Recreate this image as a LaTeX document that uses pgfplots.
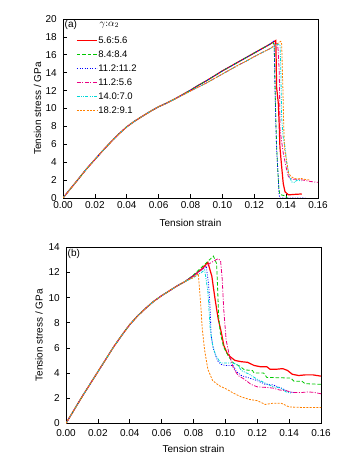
\documentclass[border=0pt]{standalone}
\usepackage{fontspec}
\setmainfont{Liberation Sans}
\usepackage{pgfplots}
\pgfplotsset{compat=1.18}
\definecolor{cred}{RGB}{255,0,0}
\definecolor{cgreen}{RGB}{0,200,0}
\definecolor{cblue}{RGB}{0,0,255}
\definecolor{cmag}{RGB}{235,0,130}
\definecolor{ccyan}{RGB}{0,215,215}
\definecolor{corange}{RGB}{255,128,0}
\tikzset{
  sred/.style={draw=cred, color=cred, line width=1.2pt, solid},
  sgreen/.style={draw=cgreen, color=cgreen, line width=0.8pt, dash pattern=on 3.5pt off 2pt},
  sblue/.style={draw=cblue, color=cblue, line width=0.8pt, dash pattern=on 1.2pt off 1.5pt on 0.8pt off 1.5pt},
  smag/.style={draw=cmag, color=cmag, line width=0.8pt, dash pattern=on 4pt off 1.5pt on 1pt off 1.5pt},
  scyan/.style={draw=ccyan, color=ccyan, line width=0.8pt, dash pattern=on 3pt off 1.2pt on 1pt off 1.2pt on 1pt off 1.2pt},
  sorange/.style={draw=corange, color=corange, line width=0.8pt, dash pattern=on 2pt off 1.3pt},
}
\pgfplotsset{
  myax/.style={
    scale only axis, width=255pt,
    xmin=0, xmax=0.16, ymin=0,
    xtick={0,0.02,0.04,0.06,0.08,0.10,0.12,0.14,0.16},
    scaled x ticks=false,
    xticklabel style={/pgf/number format/fixed,/pgf/number format/fixed zerofill,/pgf/number format/precision=2},
    /pgf/number format/assume math mode=true,
    tick align=inside, xtick pos=bottom, ytick pos=left,
    major tick length=4pt,
    axis line style={line width=0.8pt},
    tick style={line width=0.6pt, black},
    yticklabel style={xshift=-2.7pt},
    xlabel={Tension strain}, ylabel={Tension stress / GPa},
    ylabel style={anchor=center, rotate=0},
    tick label style={font=\fontsize{10}{12}\selectfont},
    label style={font=\fontsize{10}{12}\selectfont},
  },
}
\begin{document}
\fontsize{10}{12}\selectfont
\begin{tikzpicture}
\useasboundingbox (0,0) rectangle (361pt,462pt);
% ---------------- (a) ----------------
\begin{axis}[myax, at={(63pt,264pt)}, anchor=south west, height=179pt,
  ymax=20, ytick={0,2,4,6,8,10,12,14,16,18,20},
  xticklabel style={yshift=0pt},
  xlabel style={at={(axis description cs:0.5,-0.1397)}, anchor=center},
  ylabel style={at={(axis description cs:-0.1,0.5)}},
  legend style={draw=none, fill=none, at={(axis description cs:0.051,0.9095)}, anchor=north west,
    inner xsep=0pt, inner ysep=0pt, row sep=3pt, font=\fontsize{9.5}{11}\selectfont,
    nodes={inner sep=1pt, text height=7pt, text depth=2pt}},
  legend cell align=left,
  legend image code/.code={\draw[#1] (0pt,0pt) -- (20pt,0pt);},
]
\addplot[sred] coordinates {(0,0) (0.005,1.1) (0.01,2.2) (0.015,3.3) (0.02,4.3) (0.025,5.3) (0.03,6.25) (0.035,7.15) (0.04,7.95) (0.045,8.6) (0.05,9.15) (0.055,9.7) (0.06,10.2) (0.065,10.6) (0.07,11.05) (0.075,11.55) (0.08,12.05) (0.085,12.6) (0.09,13.1) (0.095,13.65) (0.10,14.2) (0.105,14.7) (0.11,15.2) (0.115,15.7) (0.12,16.2) (0.125,16.7) (0.13,17.2) (0.1335,17.6) (0.1338,15) (0.134,12.4) (0.1351,10.6) (0.1357,8.0) (0.1361,5.7) (0.1372,3.5) (0.1382,1.6) (0.1393,0.7) (0.1414,0.35) (0.145,0.4) (0.1498,0.45)};
\addlegendentry{5.6:5.6}
\addplot[sgreen] coordinates {(0,0) (0.005,1.1) (0.01,2.2) (0.015,3.3) (0.02,4.3) (0.025,5.3) (0.03,6.25) (0.035,7.15) (0.04,7.95) (0.045,8.6) (0.05,9.15) (0.055,9.7) (0.06,10.2) (0.065,10.6) (0.07,11.05) (0.075,11.55) (0.08,12.05) (0.085,12.6) (0.09,13.1) (0.095,13.65) (0.10,14.2) (0.105,14.7) (0.11,15.2) (0.115,15.7) (0.12,16.2) (0.125,16.7) (0.13,17.2) (0.1318,17.35) (0.1325,17.1) (0.133,13) (0.1335,9) (0.134,6) (0.1348,3) (0.1355,1) (0.136,0.4) (0.138,0.3) (0.14,0.25) (0.1405,0)};
\addlegendentry{8.4:8.4}
\addplot[sblue] coordinates {(0,0) (0.005,1.1) (0.01,2.2) (0.015,3.3) (0.02,4.3) (0.025,5.3) (0.03,6.25) (0.035,7.15) (0.04,7.95) (0.045,8.6) (0.05,9.15) (0.055,9.7) (0.06,10.2) (0.065,10.6) (0.07,11.05) (0.075,11.55) (0.08,12.05) (0.085,12.6) (0.09,13.1) (0.095,13.65) (0.10,14.2) (0.105,14.7) (0.11,15.2) (0.115,15.7) (0.12,16.2) (0.125,16.7) (0.13,17.2) (0.132,17.5) (0.1325,17.3) (0.133,12.5) (0.1335,8.5) (0.134,5.5) (0.135,2.5) (0.1355,0.5) (0.136,0) (0.152,0)};
\addlegendentry{11.2:11.2}
\addplot[smag] coordinates {(0,0) (0.005,1.1) (0.01,2.2) (0.015,3.3) (0.02,4.3) (0.025,5.3) (0.03,6.25) (0.035,7.15) (0.04,7.95) (0.045,8.6) (0.05,9.15) (0.055,9.7) (0.06,10.2) (0.065,10.6) (0.07,11.05) (0.075,11.5) (0.08,11.95) (0.085,12.4) (0.09,12.85) (0.095,13.35) (0.10,13.85) (0.105,14.35) (0.11,14.85) (0.115,15.3) (0.12,15.8) (0.125,16.25) (0.13,16.7) (0.1345,17.3) (0.135,16.5) (0.1357,14) (0.1362,7.6) (0.1382,5.0) (0.1404,3.1) (0.1414,2.4) (0.1435,2.1) (0.146,2.1) (0.1508,2.0) (0.155,1.85) (0.16,1.75)};
\addlegendentry{11.2:5.6}
\addplot[scyan] coordinates {(0,0) (0.005,1.1) (0.01,2.2) (0.015,3.3) (0.02,4.3) (0.025,5.3) (0.03,6.25) (0.035,7.15) (0.04,7.95) (0.045,8.6) (0.05,9.15) (0.055,9.7) (0.06,10.2) (0.065,10.6) (0.07,11.05) (0.075,11.5) (0.08,11.95) (0.085,12.4) (0.09,12.85) (0.095,13.35) (0.10,13.85) (0.105,14.35) (0.11,14.85) (0.115,15.3) (0.12,15.8) (0.125,16.25) (0.13,16.7) (0.135,17.2) (0.1362,17.1) (0.1367,14) (0.1372,9) (0.138,7) (0.1393,5.7) (0.1404,3.9) (0.142,2.4) (0.1435,1.8) (0.1456,1.75) (0.1466,2.0) (0.1496,1.9)};
\addlegendentry{14.0:7.0}
\addplot[sorange] coordinates {(0,0) (0.005,1.1) (0.01,2.2) (0.015,3.3) (0.02,4.3) (0.025,5.3) (0.03,6.25) (0.035,7.15) (0.04,7.95) (0.045,8.6) (0.05,9.15) (0.055,9.7) (0.06,10.2) (0.065,10.6) (0.07,11.05) (0.075,11.5) (0.08,11.95) (0.085,12.4) (0.09,12.85) (0.095,13.35) (0.10,13.85) (0.105,14.35) (0.11,14.85) (0.115,15.3) (0.12,15.8) (0.125,16.25) (0.13,16.7) (0.1366,17.5) (0.1372,17.2) (0.138,12) (0.1385,8) (0.139,5.5) (0.1405,3.9) (0.1415,2.8) (0.143,2.4) (0.145,2.2) (0.147,2.1) (0.149,2.2) (0.151,2.1) (0.155,2.0)};
\addlegendentry{18.2:9.1}
\node[anchor=north west, inner sep=1.5pt] at (rel axis cs:0,1) {(a)};
\node[anchor=center, inner sep=0pt] at (rel axis cs:0.182,0.966) {$\gamma{:}\alpha_2$};
\end{axis}
% ---------------- (b) ----------------
\begin{axis}[myax, at={(66pt,38.7pt)}, anchor=south west, height=176pt,
  ymax=14, ytick={0,2,4,6,8,10,12,14},
  xticklabel style={yshift=-2.7pt},
  xlabel style={at={(axis description cs:0.5,-0.146)}, anchor=center},
  ylabel style={at={(axis description cs:-0.106,0.5)}},
]
\addplot[sred] coordinates {(0,0) (0.005,1.05) (0.01,2.1) (0.015,3.1) (0.02,4.1) (0.025,5.1) (0.03,6.1) (0.035,7.0) (0.04,7.85) (0.045,8.55) (0.05,9.15) (0.055,9.7) (0.06,10.15) (0.065,10.55) (0.07,10.95) (0.075,11.3) (0.08,11.75) (0.085,12.25) (0.089,12.8) (0.0915,11.7) (0.0935,9.9) (0.0955,8.3) (0.0975,7.2) (0.099,6.2) (0.101,5.6) (0.103,5.3) (0.106,5.0) (0.11,4.9) (0.114,4.85) (0.118,4.6) (0.122,4.5) (0.126,4.5) (0.128,4.3) (0.132,4.3) (0.136,4.35) (0.139,4.2) (0.142,3.9) (0.146,3.8) (0.15,3.85) (0.155,3.85) (0.16,3.75)};
\addplot[sgreen] coordinates {(0,0) (0.005,1.05) (0.01,2.1) (0.015,3.1) (0.02,4.1) (0.025,5.1) (0.03,6.1) (0.035,7.0) (0.04,7.85) (0.045,8.55) (0.05,9.15) (0.055,9.7) (0.06,10.15) (0.065,10.55) (0.07,10.95) (0.075,11.3) (0.08,11.8) (0.085,12.4) (0.09,13.0) (0.0925,13.3) (0.0945,12.7) (0.0952,10.5) (0.0958,8.5) (0.0968,7.2) (0.0988,6.1) (0.102,5.3) (0.105,4.8) (0.109,4.55) (0.112,4.25) (0.117,4.2) (0.118,4.0) (0.124,4.0) (0.126,3.65) (0.141,3.6) (0.143,3.35) (0.148,3.35) (0.15,3.15) (0.16,3.1)};
\addplot[sblue] coordinates {(0,0) (0.005,1.05) (0.01,2.1) (0.015,3.1) (0.02,4.1) (0.025,5.1) (0.03,6.1) (0.035,7.0) (0.04,7.85) (0.045,8.55) (0.05,9.15) (0.055,9.7) (0.06,10.15) (0.065,10.55) (0.07,10.95) (0.075,11.3) (0.08,11.75) (0.085,12.2) (0.088,12.5) (0.0895,11.0) (0.0905,9.0) (0.091,7.0) (0.0925,5.9) (0.095,5.0) (0.097,4.7) (0.1,4.6) (0.105,4.6) (0.107,4.1) (0.11,3.8) (0.115,3.6) (0.12,3.4) (0.125,3.1) (0.13,3.05) (0.135,2.8) (0.14,2.5) (0.143,2.45)};
\addplot[smag] coordinates {(0,0) (0.005,1.05) (0.01,2.1) (0.015,3.1) (0.02,4.1) (0.025,5.1) (0.03,6.1) (0.035,7.0) (0.04,7.85) (0.045,8.55) (0.05,9.15) (0.055,9.7) (0.06,10.15) (0.065,10.55) (0.07,10.95) (0.075,11.3) (0.08,11.7) (0.085,12.2) (0.09,12.7) (0.094,13.0) (0.0956,13.1) (0.097,12.9) (0.098,11.5) (0.099,9.0) (0.1005,6.6) (0.1025,5.4) (0.105,4.4) (0.108,3.8) (0.112,3.5) (0.116,3.1) (0.12,2.9) (0.126,2.85) (0.13,2.8) (0.134,2.65) (0.138,2.6) (0.142,2.45) (0.148,2.45) (0.152,2.5) (0.156,2.45) (0.16,2.35)};
\addplot[scyan] coordinates {(0,0) (0.005,1.05) (0.01,2.1) (0.015,3.1) (0.02,4.1) (0.025,5.1) (0.03,6.1) (0.035,7.0) (0.04,7.85) (0.045,8.55) (0.05,9.15) (0.055,9.7) (0.06,10.15) (0.065,10.55) (0.07,10.95) (0.075,11.3) (0.08,11.6) (0.085,12.0) (0.087,12.2) (0.089,10.5) (0.0905,7.5) (0.092,6.2) (0.094,5.4) (0.097,4.8) (0.105,4.8) (0.108,4.6) (0.11,4.2) (0.115,3.9) (0.12,3.5) (0.125,3.2) (0.13,2.9) (0.135,2.8) (0.138,2.5) (0.141,2.4)};
\addplot[sorange] coordinates {(0,0) (0.005,1.05) (0.01,2.1) (0.015,3.1) (0.02,4.1) (0.025,5.1) (0.03,6.1) (0.035,7.0) (0.04,7.85) (0.045,8.55) (0.05,9.15) (0.055,9.7) (0.06,10.15) (0.065,10.55) (0.07,10.95) (0.075,11.3) (0.08,11.6) (0.083,11.9) (0.0845,9.5) (0.0855,7.5) (0.087,5.8) (0.089,4.3) (0.092,3.4) (0.096,3.0) (0.101,2.7) (0.105,2.4) (0.11,2.1) (0.115,1.9) (0.12,1.8) (0.125,1.5) (0.13,1.6) (0.135,1.6) (0.14,1.3) (0.15,1.25) (0.16,1.25)};
\node[anchor=north west, inner sep=1.5pt] at (rel axis cs:0,1) {(b)};
\end{axis}
\end{tikzpicture}
\end{document}
